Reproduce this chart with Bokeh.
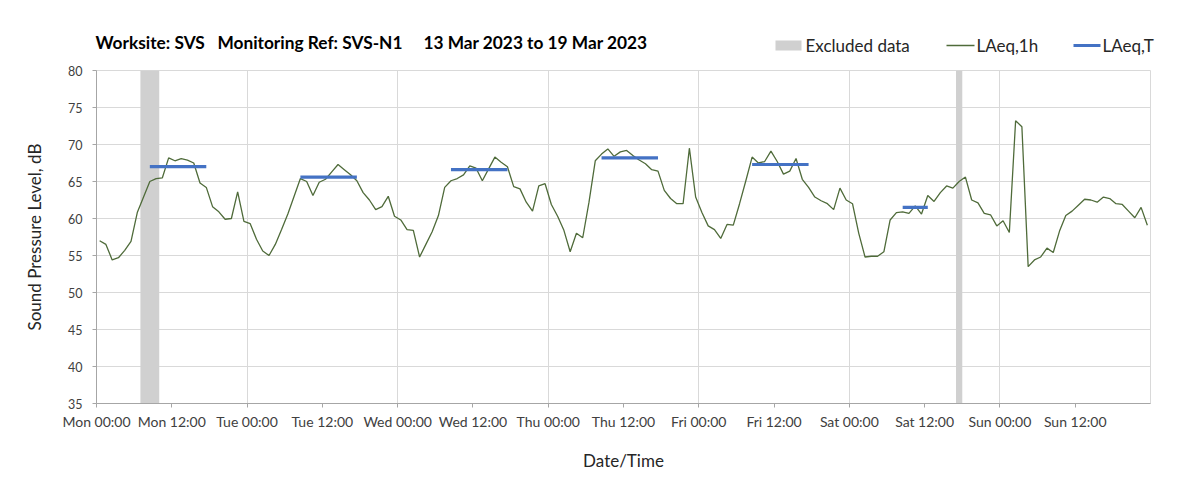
from bokeh.plotting import figure
from bokeh.layouts import column
from bokeh.models import Range1d, FixedTicker, Label
from bokeh.embed import file_html
from bokeh.resources import INLINE

# ---- data -------------------------------------------------------------
# hourly LAeq,1h values, Mon 13 Mar 2023 00:00 .. Sun 19 Mar 2023 23:00
laeq_1h = [
    57.0, 56.5, 54.4, 54.7, 55.7, 56.9, 60.8, 62.9, 65.0, 65.4, 65.5, 68.2,
    67.8, 68.1, 67.9, 67.5, 64.8, 64.2, 61.6, 60.9, 59.9, 60.0, 63.6, 59.6,
    59.3, 57.2, 55.6, 55.0, 56.5, 58.5, 60.6, 63.0, 65.4, 65.0, 63.1, 64.9,
    65.3, 66.3, 67.3, 66.6, 65.9, 65.1, 63.5, 62.5, 61.2, 61.6, 63.0, 60.3,
    59.8, 58.5, 58.4, 54.8, 56.5, 58.2, 60.4, 64.2, 65.1, 65.4, 65.9, 67.1,
    66.8, 65.1, 66.7, 68.3, 67.6, 67.0, 64.3, 64.0, 62.2, 61.0, 64.4, 64.7,
    61.9, 60.3, 58.4, 55.5, 58.0, 57.4, 62.2, 67.8, 68.7, 69.4, 68.4, 69.0,
    69.2, 68.5, 67.9, 67.4, 66.6, 66.4, 63.8, 62.7, 62.0, 62.0, 69.5, 62.9,
    60.8, 59.0, 58.5, 57.3, 59.2, 59.1, 62.0, 65.1, 68.3, 67.5, 67.7, 69.1,
    67.7, 66.0, 66.4, 68.1, 65.3, 64.2, 62.9, 62.4, 62.0, 61.2, 64.1, 62.5,
    62.0, 58.0, 54.8, 54.9, 54.9, 55.5, 59.8, 60.8, 60.9, 60.7, 61.7, 60.6,
    63.1, 62.3, 63.5, 64.4, 64.1, 65.0, 65.6, 62.5, 62.1, 60.7, 60.5, 59.0,
    59.7, 58.1, 73.2, 72.4, 53.5, 54.4, 54.8, 56.0, 55.4, 58.3, 60.4, 61.0,
    61.8, 62.6, 62.5, 62.2, 62.9, 62.7, 62.0, 61.9, 61.0, 60.1, 61.5, 59.1,
]
hours = [i + 0.5 for i in range(len(laeq_1h))]   # hour centres since Mon 00:00

# LAeq,T periods (hours since Mon 00:00) and levels
t_start = [8.5, 32.5, 56.5, 80.5, 104.5, 128.5]
t_end = [17.5, 41.5, 65.5, 89.5, 113.5, 132.5]
t_level = [67.0, 65.6, 66.6, 68.2, 67.3, 61.5]

# excluded data periods (hours since Mon 00:00)
excl_start = [7, 137]
excl_end = [10, 138]

tick_hours = list(range(0, 168, 12))
tick_labels = ["Mon 00:00", "Mon 12:00", "Tue 00:00", "Tue 12:00",
               "Wed 00:00", "Wed 12:00", "Thu 00:00", "Thu 12:00",
               "Fri 00:00", "Fri 12:00", "Sat 00:00", "Sat 12:00",
               "Sun 00:00", "Sun 12:00"]
y_ticks = [35, 40, 45, 50, 55, 60, 65, 70, 75, 80]

title_text = ("Worksite: SVS\u00a0\u00a0\u00a0Monitoring Ref: SVS-N1"
              "\u00a0\u00a0\u00a0\u00a0\u00a013 Mar 2023 to 19 Mar 2023")
legend_labels = ["Excluded data", "LAeq,1h", "LAeq,T"]

FONT = "Lato"
GRID = "#d9d9d9"
EXCL_COLOR = "#d0d0d0"
LINE_COLOR = "#4f6b3a"
T_COLOR = "#4472c4"
W = 1195
HEAD_H = 60

# ---- header strip: title + legend (pixel coordinates) -------------------
hdr = figure(width=W, height=HEAD_H, output_backend="svg", toolbar_location=None,
             x_range=Range1d(0, W), y_range=Range1d(HEAD_H, 0),
             x_axis_type=None, y_axis_type=None,
             min_border_left=0, min_border_right=0,
             min_border_top=0, min_border_bottom=0)
hdr.frame_align = False
hdr.xgrid.visible = False
hdr.ygrid.visible = False
hdr.outline_line_color = None
hdr.background_fill_color = "white"
hdr.border_fill_color = "white"

hdr.add_layout(Label(x=95, y=42, text=title_text, text_font=FONT,
                     text_font_style="bold", text_font_size="17.3px",
                     text_color="#000000", text_baseline="middle",
                     text_align="left"))

# legend keys
hdr.quad(left=[775], right=[801], top=[40], bottom=[50],
         fill_color=EXCL_COLOR, line_color=None)
hdr.segment(x0=[946], x1=[974], y0=[45], y1=[45],
            line_color=LINE_COLOR, line_width=1.3)
hdr.segment(x0=[1073], x1=[1100], y0=[45], y1=[45],
            line_color=T_COLOR, line_width=3.2)
for lx, lab in zip([805, 976, 1102], legend_labels):
    hdr.add_layout(Label(x=lx, y=45, text=lab, text_font=FONT,
                         text_font_size="17px", text_color="#262626",
                         text_baseline="middle", text_align="left"))

# ---- main chart ---------------------------------------------------------
p = figure(width=W, height=484 - HEAD_H, output_backend="svg",
           toolbar_location=None,
           x_range=Range1d(0, 168), y_range=Range1d(35, 80),
           min_border_left=96, min_border_right=45,
           min_border_top=70 - HEAD_H, min_border_bottom=81)
p.frame_align = False
p.background_fill_color = "white"
p.border_fill_color = "white"
p.outline_line_color = GRID

p.xaxis.ticker = FixedTicker(ticks=tick_hours)
p.xaxis.major_label_overrides = {h: lab for h, lab in zip(tick_hours, tick_labels)}
p.yaxis.ticker = FixedTicker(ticks=y_ticks)
for ax in (p.xaxis[0], p.yaxis[0]):
    ax.axis_line_color = "#a6a6a6"
    ax.major_tick_line_color = "#a6a6a6"
    ax.major_tick_out = 4
    ax.major_tick_in = 0
    ax.minor_tick_out = 0
    ax.minor_tick_in = 0
    ax.major_label_text_font = FONT
    ax.major_label_text_color = "#404040"
    ax.axis_label_text_font = FONT
    ax.axis_label_text_font_size = "17px"
    ax.axis_label_text_font_style = "normal"
    ax.axis_label_text_color = "#262626"

p.xaxis.major_label_text_font_size = "14px"
p.yaxis.major_label_text_font_size = "12.5px"
p.xaxis.axis_label = "Date/Time"
p.xaxis.major_label_standoff = 5
p.xaxis.axis_label_standoff = 17
p.yaxis.axis_label = "Sound Pressure Level, dB"
p.yaxis.major_label_standoff = 10
p.yaxis.axis_label_standoff = 20

p.xgrid.ticker = FixedTicker(ticks=list(range(24, 169, 24)))
p.ygrid.ticker = FixedTicker(ticks=y_ticks)
p.xgrid.grid_line_color = GRID
p.ygrid.grid_line_color = GRID

p.quad(left=excl_start, right=excl_end, bottom=35, top=80,
       fill_color=EXCL_COLOR, line_color=None)
p.line(hours, laeq_1h, line_color=LINE_COLOR, line_width=1.3)
p.segment(x0=t_start, x1=t_end, y0=t_level, y1=t_level,
          line_color=T_COLOR, line_width=3.2)

layout = column(hdr, p, spacing=0)
open("out.html", "w").write(file_html(layout, INLINE))
